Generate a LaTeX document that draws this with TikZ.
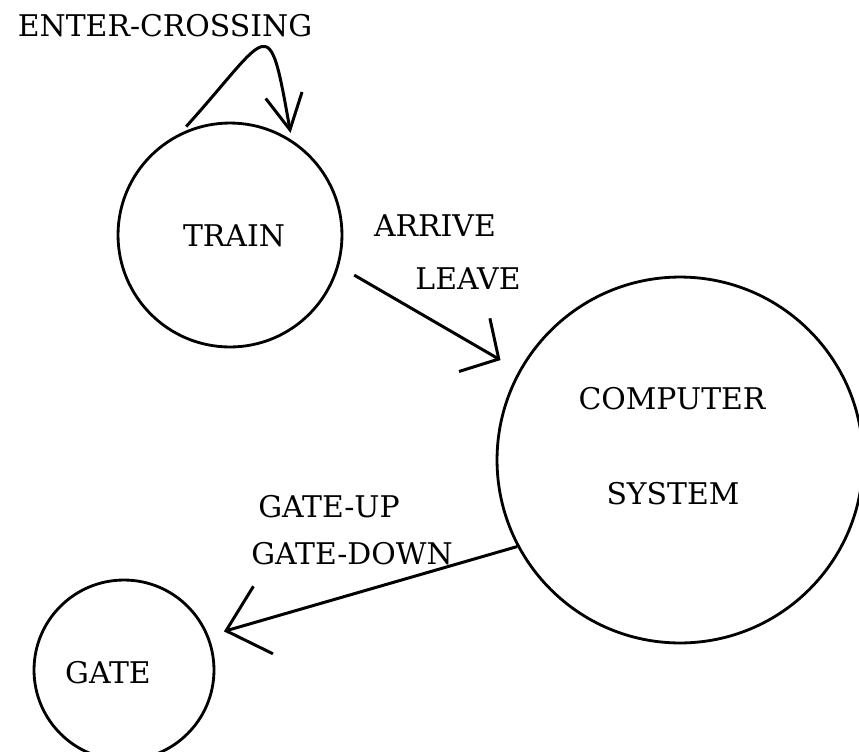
\documentclass[tikz,border=0pt]{standalone}
\usepackage{fontspec}
\setmainfont{DejaVu Serif}
\usetikzlibrary{arrows.meta}
\tikzset{
  state/.style={draw, circle, line width=1.6pt, minimum size=#1, inner sep=0pt},
  lbl/.style={font=\fontsize{17}{20}\selectfont, inner sep=0pt},
  arr/.style={-{Straight Barb[length=16pt, width=35pt]}, line width=1.7pt}
}

\begin{document}
\begin{tikzpicture}[x=0.02cm, y=-0.02cm]
\useasboundingbox (0,0) rectangle (859,751);

% processes
\node[state=4.48cm] (train) at (230,235) {};
\node[state=7.32cm] (comp) at (680,460) {};
\node[state=3.6cm] (gate) at (124,670) {};

\node[lbl] (traintxt) at (234,236) {TRAIN};
\node[lbl] (comptxt) at (672,399) {COMPUTER};
\node[lbl] (systxt) at (673,494) {SYSTEM};
\node[lbl] (gatetxt) at (108,673) {GATE};

% events
\node[lbl] (enter) at (165,26) {ENTER-CROSSING};
\node[lbl] (arrive) at (435,226) {ARRIVE};
\node[lbl] (leave) at (468,279) {LEAVE};
\node[lbl] (gateup) at (329,507) {GATE-UP};
\node[lbl] (gatedown) at (352,554) {GATE-DOWN};

\draw[arr, -{Straight Barb[length=20pt, width=21pt]}, shorten <=5pt, shorten >=4pt]
  (train.116) to[out=48, in=100, looseness=3.1] (train.57);
\draw[arr, shorten <=10pt, shorten >=12pt] (train.-16) -- (comp.151);
\draw[arr, -{Straight Barb[length=22pt, width=40pt]}, shorten >=9pt] (comp.208) -- (gate.22);
\end{tikzpicture}
\end{document}
